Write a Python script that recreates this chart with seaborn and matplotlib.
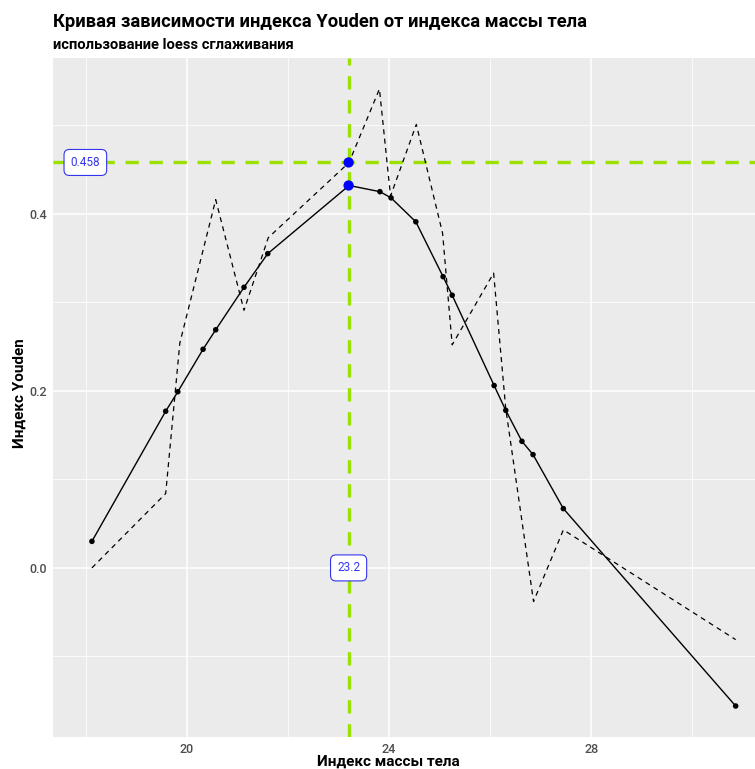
import numpy as np
import pandas as pd
import matplotlib
matplotlib.use("Agg")
import matplotlib.pyplot as plt
import seaborn as sns

# smoothed (loess) curve - solid line with points
bmi = [18.12, 19.58, 19.82, 20.32, 20.57, 21.13, 21.60, 23.21, 23.82, 24.04,
       24.53, 25.07, 25.25, 26.08, 26.31, 26.63, 26.85, 27.45, 30.86]
youden_smooth = [0.030, 0.177, 0.199, 0.247, 0.269, 0.317, 0.355, 0.432, 0.425, 0.418,
                 0.391, 0.329, 0.308, 0.206, 0.178, 0.143, 0.128, 0.067, -0.156]

# raw Youden index - dashed line
bmi_raw = [18.12, 19.58, 19.86, 20.57, 21.13, 21.61, 23.21, 23.81, 24.03,
           24.54, 25.06, 25.25, 26.07, 26.31, 26.86, 27.45, 30.86]
youden_raw = [0.000, 0.084, 0.254, 0.416, 0.291, 0.373, 0.458, 0.541, 0.420,
              0.501, 0.378, 0.252, 0.333, 0.180, -0.038, 0.043, -0.081]

# optimal cut-off
cut_x = 23.2
cut_y = 0.458
cut_y_smooth = 0.432
label_x_pos = 17.99

df_s = pd.DataFrame({"bmi": bmi, "youden": youden_smooth})
df_r = pd.DataFrame({"bmi": bmi_raw, "youden": youden_raw})
df_best = pd.DataFrame({"bmi": [cut_x, cut_x], "youden": [cut_y, cut_y_smooth]})

sns.set_theme(style="darkgrid", rc={"axes.facecolor": "#EBEBEB", "grid.color": "white"})
plt.rcParams["font.family"] = ["Roboto", "DejaVu Sans"]

fig = plt.figure(figsize=(7.55, 7.69), dpi=100)
ax = fig.add_axes([53 / 755, 1 - 737 / 769, 715 / 755, (737 - 58) / 769])

green = "#9BE000"
lab_col = "#3535F0"

ax.axvline(cut_x, color=green, lw=2.4, ls=(0, (4, 3.2)), zorder=2)
ax.axhline(cut_y, color=green, lw=2.4, ls=(0, (4, 3.2)), zorder=2)

sns.lineplot(data=df_r, x="bmi", y="youden", ax=ax, color="black", lw=0.9,
             ls=(0, (4, 3.5)), estimator=None, sort=False, zorder=3)
sns.lineplot(data=df_s, x="bmi", y="youden", ax=ax, color="black", lw=1.0,
             estimator=None, sort=False, zorder=3)
sns.scatterplot(data=df_s, x="bmi", y="youden", ax=ax, color="black", s=16,
                edgecolor="none", zorder=4)
sns.scatterplot(data=df_best, x="bmi", y="youden", ax=ax, color="blue", s=55,
                edgecolor="none", zorder=5)

box = dict(boxstyle="round,pad=0.55,rounding_size=0.45", fc="white", ec=lab_col, lw=0.8)
ax.text(label_x_pos, cut_y, f"{cut_y}", color=lab_col, fontsize=8.5, ha="center",
        va="center", bbox=box, zorder=6)
ax.text(cut_x, 0.0, f"{cut_x}", color=lab_col, fontsize=8.5, ha="center",
        va="center", bbox=box, zorder=6)

ax.set_xlim(17.35, 31.5)
ax.set_ylim(-0.191, 0.576)
ax.set_xticks([20, 24, 28])
ax.set_xticks([18, 22, 26, 30], minor=True)
ax.set_yticks([0.0, 0.2, 0.4])
ax.set_yticks([-0.1, 0.1, 0.3, 0.5], minor=True)
ax.set_yticklabels(["0.0", "0.2", "0.4"])
ax.grid(which="major", color="white", lw=1.1)
ax.grid(which="minor", color="white", lw=0.55)
ax.tick_params(axis="both", which="major", length=3, width=0.8, color="#333333",
               labelcolor="#4D4D4D", labelsize=9, pad=1.5)
for t in ax.get_xticklabels() + ax.get_yticklabels():
    t.set_fontweight("medium")
ax.tick_params(axis="both", which="minor", length=0)
for s in ax.spines.values():
    s.set_visible(False)

ax.set_xlabel("Индекс массы тела", fontsize=11, fontweight="bold", color="black")
ax.xaxis.set_label_coords((388 - 53) / 715, -(762 - 737) / (737 - 58))
ax.xaxis.label.set_va("center")
ax.set_ylabel("Индекс Youden", fontsize=11, fontweight="bold", color="black")
ax.yaxis.set_label_coords(-(53 - 20) / 715, (737 - 393) / (737 - 58))
ax.yaxis.label.set_va("center")

fig.text(53 / 755, 1 - 22 / 769, "Кривая зависимости индекса Youden от индекса массы тела",
         fontsize=13.2, fontweight="bold", va="center", ha="left", color="black")
fig.text(53 / 755, 1 - 45 / 769, "использование loess сглаживания",
         fontsize=10.6, fontweight="bold", va="center", ha="left", color="black")

fig.savefig("out.png", dpi=100)
